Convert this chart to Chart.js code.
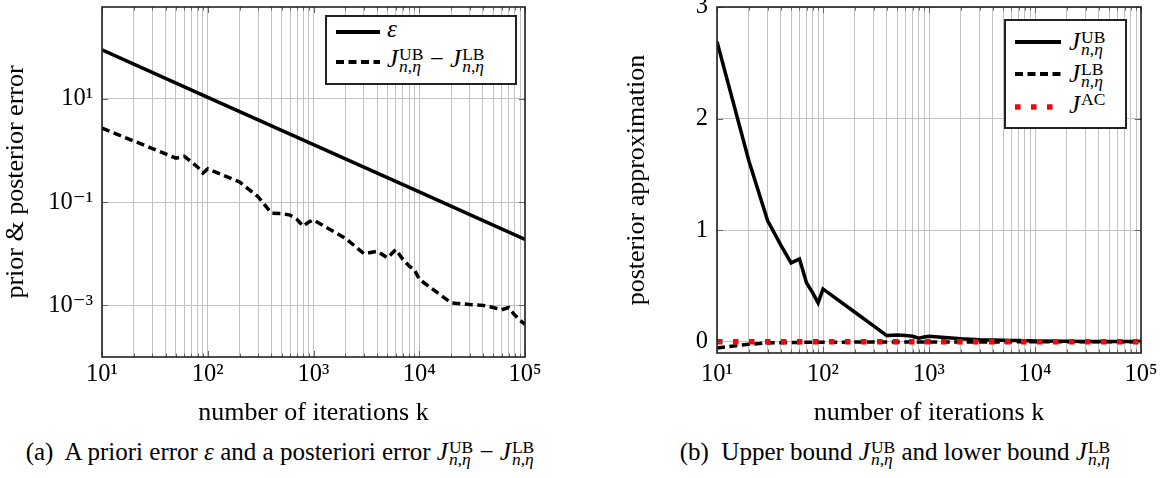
<!DOCTYPE html>
<html>
<head>
<meta charset="utf-8">
<script src="https://cdn.jsdelivr.net/npm/chart.js@4.4.1/dist/chart.umd.min.js"></script>
<style>
  html, body { margin:0; padding:0; background:#fff; }
  body { width:1165px; height:478px; position:relative; overflow:hidden;
         font-family:'Liberation Serif','DejaVu Serif',serif; color:#000; }
  .wrap { position:absolute; top:0; height:430px; }
  #wa { left:0; width:560px; }
  #wb { left:620px; width:545px; }
  .lg { position:absolute; border:2px solid #222; background:#fff; box-sizing:border-box; }
  .smp { position:absolute; }
  .tx { position:absolute; font-size:25px; line-height:25px; white-space:nowrap; }
  .ss { display:inline-flex; flex-direction:column; font-size:17.5px; line-height:12px;
        vertical-align:7px; margin-left:1px; }
  .cap { position:absolute; font-size:25px; line-height:25px; white-space:nowrap; transform:translateX(-50%); }
  i { font-style:italic; }
</style>
</head>
<body>
<div class="wrap" id="wa"><canvas id="ca"></canvas></div>
<div class="wrap" id="wb"><canvas id="cb"></canvas></div>

<!-- legend (a) -->
<div class="lg" style="left:325px;top:15px;width:192px;height:70px;"></div>
<svg class="smp" style="left:336px;top:28px" width="44" height="8"><line x1="0" y1="4" x2="44" y2="4" stroke="#000" stroke-width="4"/></svg>
<div class="tx" style="left:387px;top:16px;"><i>ε</i></div>
<svg class="smp" style="left:336px;top:58px" width="44" height="8"><line x1="0" y1="4" x2="44" y2="4" stroke="#000" stroke-width="4" stroke-dasharray="8 4.5"/></svg>
<div class="tx" style="left:387px;top:46px;"><i>J</i><span class="ss"><span>UB</span><span><i>n</i>,<i>η</i></span></span> − <i>J</i><span class="ss"><span>LB</span><span><i>n</i>,<i>η</i></span></span></div>

<!-- legend (b) -->
<div class="lg" style="left:1004px;top:19px;width:123px;height:110px;"></div>
<svg class="smp" style="left:1015px;top:38px" width="46" height="8"><line x1="0" y1="4" x2="46" y2="4" stroke="#000" stroke-width="4"/></svg>
<div class="tx" style="left:1069px;top:29px;"><i>J</i><span class="ss"><span>UB</span><span><i>n</i>,<i>η</i></span></span></div>
<svg class="smp" style="left:1015px;top:70px" width="46" height="8"><line x1="0" y1="4" x2="46" y2="4" stroke="#000" stroke-width="4" stroke-dasharray="8 4.5"/></svg>
<div class="tx" style="left:1069px;top:61px;"><i>J</i><span class="ss"><span>LB</span><span><i>n</i>,<i>η</i></span></span></div>
<svg class="smp" style="left:1015px;top:103px" width="46" height="8"><line x1="0" y1="4" x2="46" y2="4" stroke="#f00" stroke-width="5.5" stroke-dasharray="5.5 10.5"/></svg>
<div class="tx" style="left:1069px;top:92px;"><i>J</i><span class="ss" style="vertical-align:8px"><span>AC</span></span></div>

<!-- captions -->
<div class="cap" style="left:280px;top:439px;">(a)&nbsp; A priori error <i>ε</i> and a posteriori error <i>J</i><span class="ss"><span>UB</span><span><i>n</i>,<i>η</i></span></span> − <i>J</i><span class="ss"><span>LB</span><span><i>n</i>,<i>η</i></span></span></div>
<div class="cap" style="left:895px;top:439px;">(b)&nbsp; Upper bound <i>J</i><span class="ss"><span>UB</span><span><i>n</i>,<i>η</i></span></span> and lower bound <i>J</i><span class="ss"><span>LB</span><span><i>n</i>,<i>η</i></span></span></div>

<script>
// ---------- data ----------
const kValues = [10,20,30,40,50,60,70,80,90,
                 100,200,300,400,500,600,700,800,900,
                 1000,2000,3000,4000,5000,6000,7000,8000,9000,
                 10000,20000,30000,40000,50000,60000,70000,80000,90000,100000];

// (a) a priori error epsilon (straight line in log-log)
const epsK = [10, 100, 1000, 10000, 100000];
const epsV = [89, 10.7, 1.30, 0.158, 0.019];

// (a) a posteriori error J_UB - J_LB
const gapV = [2.71,1.52,1.09,0.86,0.71,0.77,0.60,0.48,0.366,
              0.44,0.245,0.126,0.061,0.060,0.056,0.046,0.034,0.041,
              0.045,0.020,0.0100,0.0112,0.0083,0.0120,0.0078,0.0058,0.0049,
              0.0032,0.00112,0.00104,0.00100,0.00091,0.00082,0.00091,0.00065,0.00051,0.00043];

// (b) upper bound J_UB
const ubV = [2.69,1.62,1.086,0.866,0.707,0.743,0.528,0.439,0.349,
             0.474,0.265,0.143,0.056,0.062,0.056,0.050,0.032,0.044,
             0.050,0.027,0.018,0.016,0.014,0.012,0.011,0.010,0.009,
             0.008,0.005,0.004,0.003,0.003,0.003,0.002,0.002,0.002,0.002];

// (b) lower bound J_LB
const lbK = [10, 20, 30, 50, 100, 1000, 10000, 100000];
const lbV = [-0.055, -0.022, -0.010, -0.006, -0.003, -0.001, 0, 0];

// (b) J_AC
const acK = [10, 100000];
const acV = [0.0, 0.0];

// ticks
const xLabelValues = [10, 100, 1000, 10000, 100000];
const xTickLabels  = ['10¹', '10²', '10³', '10⁴', '10⁵'];
const yaTickValues = [10, 0.1, 0.001];
const yaTickLabels = ['10¹', '10⁻¹', '10⁻³'];
const ybTickValues = [0, 1, 2, 3];
const ybTickLabels = ['0', '1', '2', '3'];

// ---------- helpers ----------
const FONT = "'Liberation Serif','DejaVu Serif',serif";
const GRID = '#c2c2c2';
const pts = (xs, ys) => xs.map((x, i) => ({x: x, y: ys[i]}));

const framePlugin = {
  id: 'frame',
  afterDraw(chart) {
    const {ctx, chartArea: a, scales} = chart;
    ctx.save();
    ctx.strokeStyle = '#666';
    ctx.lineWidth = 1;
    const xs = scales.x;
    kValues.forEach(v => {
      const px = Math.round(xs.getPixelForValue(v)) + 0.5;
      const L = xLabelValues.includes(v) ? 6 : 3.5;
      ctx.beginPath();
      ctx.moveTo(px, a.top); ctx.lineTo(px, a.top + L);
      ctx.moveTo(px, a.bottom); ctx.lineTo(px, a.bottom - L);
      ctx.stroke();
    });
    const ys = scales.y;
    (chart.options.plugins.frame.yTicks || []).forEach(v => {
      const py = Math.round(ys.getPixelForValue(v)) + 0.5;
      ctx.beginPath();
      ctx.moveTo(a.left, py); ctx.lineTo(a.left + 6, py);
      ctx.moveTo(a.right, py); ctx.lineTo(a.right - 6, py);
      ctx.stroke();
    });
    ctx.strokeStyle = '#222';
    ctx.lineWidth = 1.6;
    ctx.strokeRect(a.left, a.top, a.right - a.left, a.bottom - a.top);
    ctx.restore();
  }
};

function xScale(height, pad) {
  return {
    type: 'logarithmic', min: 10, max: 100000,
    afterBuildTicks: s => { s.ticks = kValues.map(v => ({value: v})); },
    afterFit: s => { s.height = height; },
    ticks: {
      autoSkip: false, maxRotation: 0, minRotation: 0, padding: pad, color: '#000',
      font: {family: FONT, size: 24.5},
      callback: v => { const i = xLabelValues.indexOf(v); return i >= 0 ? xTickLabels[i] : ''; }
    },
    grid: { color: GRID, lineWidth: 1, drawTicks: false },
    border: { display: false },
    title: { display: true, text: 'number of iterations k', color: '#000',
             font: {family: FONT, size: 26}, padding: {top: 0, bottom: 1} }
  };
}

function yFit(w) {
  return s => { s.width = w; s.paddingTop = 0; s.paddingBottom = 0; };
}

Chart.defaults.animation = false;

// ---------- chart (a) ----------
new Chart(document.getElementById('ca'), {
  type: 'line',
  data: {
    datasets: [
      { label: 'ε', data: pts(epsK, epsV), borderColor: '#000', borderWidth: 3.5,
        pointRadius: 0, tension: 0, clip: 0, order: 0 },
      { label: 'J_UB − J_LB', data: pts(kValues, gapV), borderColor: '#000', borderWidth: 3.5,
        borderDash: [8, 4.5], pointRadius: 0, tension: 0, clip: 0, order: 1 }
    ]
  },
  options: {
    responsive: true, maintainAspectRatio: false,
    layout: { padding: {left: 0, right: 35, top: 7, bottom: 0} },
    plugins: { legend: {display: false}, tooltip: {enabled: false}, frame: {yTicks: yaTickValues} },
    scales: {
      x: xScale(73, 3),
      y: {
        type: 'logarithmic', min: 0.0001, max: 600,
        afterBuildTicks: s => { s.ticks = yaTickValues.map(v => ({value: v})); },
        afterFit: yFit(102),
        ticks: { padding: 9, color: '#000', font: {family: FONT, size: 24.5},
                 callback: v => { const i = yaTickValues.indexOf(v); return i >= 0 ? yaTickLabels[i] : ''; } },
        grid: { color: GRID, lineWidth: 1, drawTicks: false },
        border: { display: false },
        title: { display: true, text: 'prior & posterior error', color: '#000',
                 font: {family: FONT, size: 26}, padding: {top: 0.5, bottom: 0} }
      }
    }
  },
  plugins: [framePlugin]
});

// ---------- chart (b) ----------
new Chart(document.getElementById('cb'), {
  type: 'line',
  data: {
    datasets: [
      { label: 'J_UB', data: pts(kValues, ubV), borderColor: '#000', borderWidth: 3.5,
        pointRadius: 0, tension: 0, clip: 0, order: 1 },
      { label: 'J_LB', data: pts(lbK, lbV), borderColor: '#000', borderWidth: 3.5,
        borderDash: [8, 4.5], pointRadius: 0, tension: 0, clip: 0, order: 2 },
      { label: 'J_AC', data: pts(acK, acV), borderColor: '#ff0000', borderWidth: 5.5,
        borderDash: [5.5, 10.5], borderCapStyle: 'butt', pointRadius: 0, tension: 0, clip: 0, order: 0 }
    ]
  },
  options: {
    responsive: true, maintainAspectRatio: false,
    layout: { padding: {left: 0, right: 24, top: 7, bottom: 0} },
    plugins: { legend: {display: false}, tooltip: {enabled: false}, frame: {yTicks: ybTickValues} },
    scales: {
      x: xScale(77, 7),
      y: {
        type: 'linear', min: -0.1, max: 3,
        afterBuildTicks: s => { s.ticks = ybTickValues.map(v => ({value: v})); },
        afterFit: yFit(97),
        ticks: { padding: 9, color: '#000', font: {family: FONT, size: 24.5},
                 callback: v => { const i = ybTickValues.indexOf(v); return i >= 0 ? ybTickLabels[i] : ''; } },
        grid: { color: GRID, lineWidth: 1, drawTicks: false },
        border: { display: false },
        title: { display: true, text: 'posterior approximation', color: '#000',
                 font: {family: FONT, size: 26}, padding: {top: 1.5, bottom: 0} }
      }
    }
  },
  plugins: [framePlugin]
});
</script>
</body>
</html>
